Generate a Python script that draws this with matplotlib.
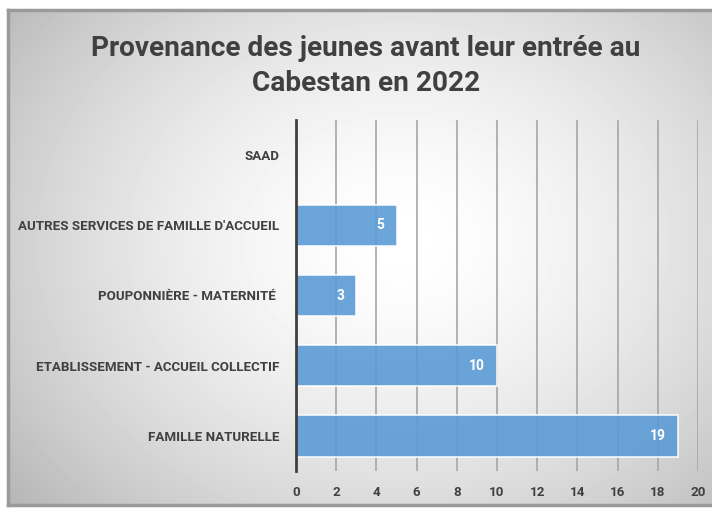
import numpy as np
import matplotlib.pyplot as plt

categories = ["FAMILLE NATURELLE", "ETABLISSEMENT - ACCUEIL COLLECTIF",
              "POUPONNIÈRE - MATERNITÉ ", "AUTRES SERVICES DE FAMILLE D'ACCUEIL", "SAAD"]
values = [19, 10, 3, 5, 0]
xticks = list(range(0, 21, 2))
title = "Provenance des jeunes avant leur entrée au\nCabestan en 2022"

plt.rcParams['font.family'] = ['Roboto', 'DejaVu Sans']
plt.rcParams['font.weight'] = 'bold'

fig = plt.figure(figsize=(7.12, 5.08), dpi=100)

# background frame with radial gradient (runs off the right edge)
bg = fig.add_axes([8 / 712, 3 / 508, 720 / 712, 495 / 508])
h, w = 495, 720
yy, xx = np.mgrid[0:h, 0:w]
r = np.sqrt(((xx - 390) / 520) ** 2 + ((yy - 230) / 420) ** 2)
shade = 1.0 - 0.30 * np.clip(r, 0, 1) ** 1.6
bg.imshow(shade, cmap='gray', vmin=0, vmax=1, aspect='auto', extent=[0, 1, 0, 1])
bg.set_xlim(0, 1)
bg.set_ylim(0, 1)
for s in bg.spines.values():
    s.set_color('#9a9a9a')
    s.set_linewidth(2.5)
bg.set_xticks([])
bg.set_yticks([])

ax = fig.add_axes([296 / 712, 1 - 471 / 508, 402 / 712, 351 / 508])
ax.patch.set_alpha(0)
y = np.arange(len(categories))
bars = ax.barh(y, values, height=0.59, color='#5b9bd5', alpha=0.9,
               edgecolor='white', linewidth=1.2, zorder=3)
for b, v in zip(bars, values):
    if v > 0:
        ax.text(v - 0.6, b.get_y() + b.get_height() / 2, str(v), ha='right', va='center',
                color='white', fontsize=10, fontweight='bold', zorder=4)

ax.set_xlim(0, 20)
ax.set_ylim(-0.5, len(categories) - 0.5)
ax.set_xticks(xticks)
ax.set_yticks(y)
ax.set_yticklabels(categories, fontweight='bold')
ax.set_xticklabels([str(t) for t in xticks], fontweight='bold')
ax.grid(axis='x', color='#a6a6a6', linewidth=1.2, zorder=1)
ax.tick_params(axis='y', length=0, labelsize=9.6, labelcolor='#404040', pad=12)
ax.tick_params(axis='x', length=0, labelsize=9.6, labelcolor='#404040', pad=11)
for side in ['top', 'right', 'bottom']:
    ax.spines[side].set_visible(False)
ax.spines['left'].set_color('#404040')
ax.spines['left'].set_linewidth(2)
ax.spines['left'].set_zorder(5)

fig.text(366 / 712, 1 - 66 / 508, title, ha='center', va='center', fontsize=20.2,
         fontweight='bold', color='#404040', linespacing=1.4)

fig.savefig('out.png', dpi=100)
